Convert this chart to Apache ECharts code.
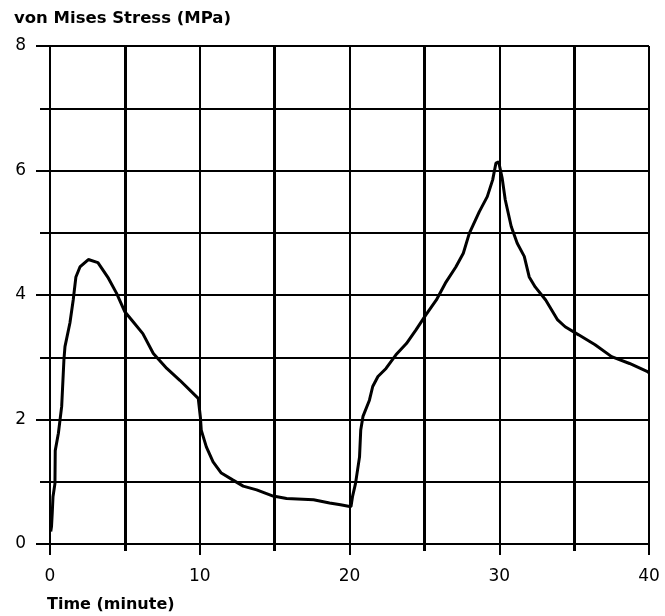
<!DOCTYPE html>
<html>
<head>
<meta charset="utf-8">
<script src="https://cdn.jsdelivr.net/npm/echarts@6/dist/echarts.min.js"></script>
<style>html,body{margin:0;padding:0;background:#fff}#c{width:665px;height:616px}</style>
</head>
<body>
<div id="c"></div>
<script>
const yTitle = 'von Mises Stress (MPa)';
const xTitle = 'Time (minute)';
const time = [0.05,0.1,0.15,0.2,0.33,0.35,0.56,0.78,0.93,1.0,1.33,1.55,1.73,2.0,2.56,3.2,3.9,4.44,5.0,5.55,6.2,6.9,7.8,8.67,9.9,10.05,10.1,10.44,10.89,11.44,12.2,12.9,13.8,14.9,15.8,17.6,18.67,19.4,20.1,20.2,20.4,20.67,20.75,20.9,21.33,21.55,21.9,22.44,23.1,23.8,24.44,25.1,25.8,26.4,27.1,27.6,28.0,28.67,29.2,29.56,29.78,29.96,30.2,30.4,30.8,31.2,31.67,32.0,32.4,33.1,33.9,34.4,35.3,36.4,37.5,38.7,39.9,40];
const stress = [0.2,0.28,0.5,0.76,0.97,1.5,1.78,2.21,2.96,3.17,3.55,3.92,4.29,4.45,4.57,4.52,4.27,4.03,3.73,3.57,3.38,3.06,2.82,2.63,2.34,2.02,1.83,1.56,1.32,1.14,1.03,0.93,0.87,0.77,0.73,0.71,0.66,0.63,0.6,0.76,0.97,1.4,1.83,2.05,2.31,2.53,2.69,2.82,3.04,3.22,3.44,3.68,3.92,4.19,4.45,4.67,4.99,5.34,5.58,5.85,6.12,6.14,5.87,5.53,5.1,4.83,4.62,4.29,4.13,3.92,3.6,3.49,3.36,3.2,3.01,2.9,2.77,2.75];
const xTicks = [0,10,20,30,40];
const yTicks = [0,2,4,6,8];

const chart = echarts.init(document.getElementById('c'));
const font = '"DejaVu Sans", Verdana, sans-serif';
chart.setOption({
  animation: false,
  title: [
    {text: yTitle, left: 14, top: 10, padding: 0, textStyle: {fontFamily: font, fontWeight: 'bold', fontSize: 16.5, color: '#000'}},
    {text: xTitle, left: 47, top: 597, padding: 0, textStyle: {fontFamily: font, fontWeight: 'bold', fontSize: 16, color: '#000'}}
  ],
  grid: {left: 50, right: 16, top: 46, bottom: 72, containLabel: false},
  xAxis: {
    type: 'value', min: xTicks[0], max: xTicks[xTicks.length-1], interval: 10,
    axisLine: {show: true, onZero: false, lineStyle: {color: '#000', width: 2}},
    axisTick: {show: true, length: 11, lineStyle: {color: '#000', width: 2}},
    minorTick: {show: true, splitNumber: 2, length: 7, lineStyle: {color: '#000', width: 3}},
    splitLine: {show: true, lineStyle: {color: '#000', width: 2}},
    minorSplitLine: {show: true, lineStyle: {color: '#000', width: 3}},
    axisLabel: {margin: 24, fontFamily: font, fontSize: 17, color: '#000'}
  },
  yAxis: {
    type: 'value', min: yTicks[0], max: yTicks[yTicks.length-1], interval: 2,
    axisLine: {show: true, onZero: false, lineStyle: {color: '#000', width: 2}},
    axisTick: {show: true, length: 14, lineStyle: {color: '#000', width: 2}},
    minorTick: {show: true, splitNumber: 2, length: 10, lineStyle: {color: '#000', width: 2}},
    splitLine: {show: true, lineStyle: {color: '#000', width: 2}},
    minorSplitLine: {show: true, lineStyle: {color: '#000', width: 2}},
    axisLabel: {margin: 24, fontFamily: font, fontSize: 17, color: '#000'}
  },
  series: [{
    type: 'line',
    data: time.map((t, i) => [t, stress[i]]),
    showSymbol: false,
    smooth: false,
    lineStyle: {color: '#000', width: 3},
    z: 5
  }]
});
</script>
</body>
</html>
